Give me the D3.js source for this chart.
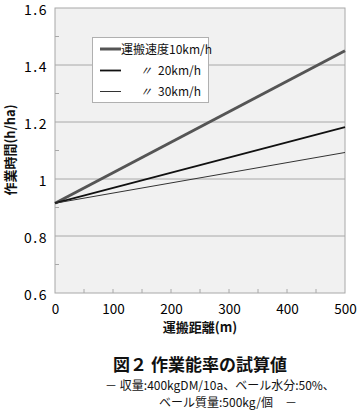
<!DOCTYPE html>
<html><head><meta charset="utf-8">
<script src="https://cdn.jsdelivr.net/npm/d3@7"></script>
<style>body{margin:0;background:#fff}svg{display:block}</style>
</head><body>
<svg id="c" width="361" height="415"></svg>
<script>
const distances = [0, 500];
const speed10 = [0.915, 1.45];
const speed20 = [0.915, 1.182];
const speed30 = [0.915, 1.093];
const seriesNames = ["運搬速度10km/h", "〃　20km/h", "〃　30km/h"];
const yTicks = [0.6, 0.8, 1.0, 1.2, 1.4, 1.6];
const yTickLabels = ["0.6", "0.8", "1", "1.2", "1.4", "1.6"];
const xTicks = [0, 100, 200, 300, 400, 500];
const xTitle = "運搬距離(m)";
const yTitle = "作業時間(h/ha)";
const caption = "図２ 作業能率の試算値";
const note1 = "－ 収量:400kgDM/10a、ベール水分:50%、";
const note2 = "ベール質量:500kg/個　－";

const font = "'Noto Sans CJK JP', 'Noto Sans', sans-serif";
const svg = d3.select("#c");
const L = 55, R = 345, T = 8, B = 293;
const x = d3.scaleLinear().domain([0, 500]).range([L, R]);
const y = d3.scaleLinear().domain([0.6, 1.6]).range([B, T]);

svg.append("rect").attr("x", L).attr("y", T).attr("width", R - L).attr("height", B - T)
  .attr("fill", "#f1f1f1").attr("stroke", "#a8a8a8").attr("stroke-width", 1);

svg.append("g").selectAll("line").data(yTicks.filter(d => d > 0.6 && d < 1.6)).join("line")
  .attr("x1", L).attr("x2", R).attr("y1", d => y(d)).attr("y2", d => y(d))
  .attr("stroke", "#a8a8a8").attr("stroke-width", 1);

const yMinor = d3.range(0.7, 1.6, 0.2);
svg.append("g").selectAll("line").data(yMinor).join("line")
  .attr("x1", L).attr("x2", L + 4).attr("y1", d => y(d)).attr("y2", d => y(d))
  .attr("stroke", "#a8a8a8");
const xMinor = d3.range(50, 500, 50);
svg.append("g").selectAll("line").data(xMinor).join("line")
  .attr("x1", d => x(d)).attr("x2", d => x(d)).attr("y1", B).attr("y2", B - 4)
  .attr("stroke", "#a8a8a8");

const yAxis = d3.axisLeft(y).tickValues(yTicks).tickFormat((d, i) => yTickLabels[i]).tickSize(0).tickPadding(7);
const gy = svg.append("g").attr("transform", `translate(${L},0)`).call(yAxis);
gy.select(".domain").remove();
gy.selectAll("text").attr("font-family", font).attr("font-size", 14).attr("fill", "#000")
  .attr("letter-spacing", "1.5px").attr("dy", "0.45em");

const xAxis = d3.axisBottom(x).tickValues(xTicks).tickFormat(d3.format("d")).tickSize(0).tickPadding(11);
const gx = svg.append("g").attr("transform", `translate(0,${B})`).call(xAxis);
gx.select(".domain").remove();
gx.selectAll("text").attr("font-family", font).attr("font-size", 13.5).attr("fill", "#000");

const series = [
  {vals: speed10, color: "#555555", w: 3},
  {vals: speed20, color: "#111111", w: 1.8},
  {vals: speed30, color: "#333333", w: 1}
];
const line = d3.line().x((d, i) => x(distances[i])).y(d => y(d));
svg.append("g").selectAll("path").data(series).join("path")
  .attr("d", d => line(d.vals)).attr("fill", "none")
  .attr("stroke", d => d.color).attr("stroke-width", d => d.w);

const lg = svg.append("g");
lg.append("rect").attr("x", 92.5).attr("y", 37.5).attr("width", 116).attr("height", 65)
  .attr("fill", "#fff").attr("stroke", "#b0b0b0");
const rowsY = [49, 70.5, 91.5];
series.forEach((s, i) => {
  lg.append("line").attr("x1", 100).attr("x2", 121).attr("y1", rowsY[i]).attr("y2", rowsY[i])
    .attr("stroke", s.color).attr("stroke-width", s.w);
});
lg.append("text").attr("x", 121).attr("y", rowsY[0] + 4.5).attr("font-family", font).attr("font-size", 12)
  .attr("fill", "#111").text(seriesNames[0]);
[1, 2].forEach(i => {
  const parts = seriesNames[i].split("　");
  lg.append("text").attr("x", 140).attr("y", rowsY[i] + 4.5).attr("font-family", font).attr("font-size", 12)
    .attr("fill", "#111").attr("font-style", "italic").text(parts[0]);
  lg.append("text").attr("x", 158).attr("y", rowsY[i] + 4.5).attr("font-family", font).attr("font-size", 12)
    .attr("fill", "#111").text(parts[1]);
});

svg.append("text").attr("x", 200).attr("y", 332).attr("text-anchor", "middle")
  .attr("font-family", font).attr("font-size", 13).attr("font-weight", "bold").attr("fill", "#111").text(xTitle);
svg.append("text").attr("transform", "translate(15,150) rotate(-90)").attr("text-anchor", "middle")
  .attr("font-family", font).attr("font-size", 13).attr("font-weight", "bold").attr("fill", "#111").text(yTitle);
svg.append("text").attr("x", 200).attr("y", 371).attr("text-anchor", "middle")
  .attr("font-family", font).attr("font-size", 17).attr("font-weight", "bold").attr("fill", "#111").text(caption);
svg.append("text").attr("x", 220).attr("y", 390).attr("text-anchor", "middle")
  .attr("font-family", font).attr("font-size", 12).attr("fill", "#111").text(note1);
svg.append("text").attr("x", 228).attr("y", 406.5).attr("text-anchor", "middle")
  .attr("font-family", font).attr("font-size", 12).attr("fill", "#111").text(note2);
</script>
</body></html>
